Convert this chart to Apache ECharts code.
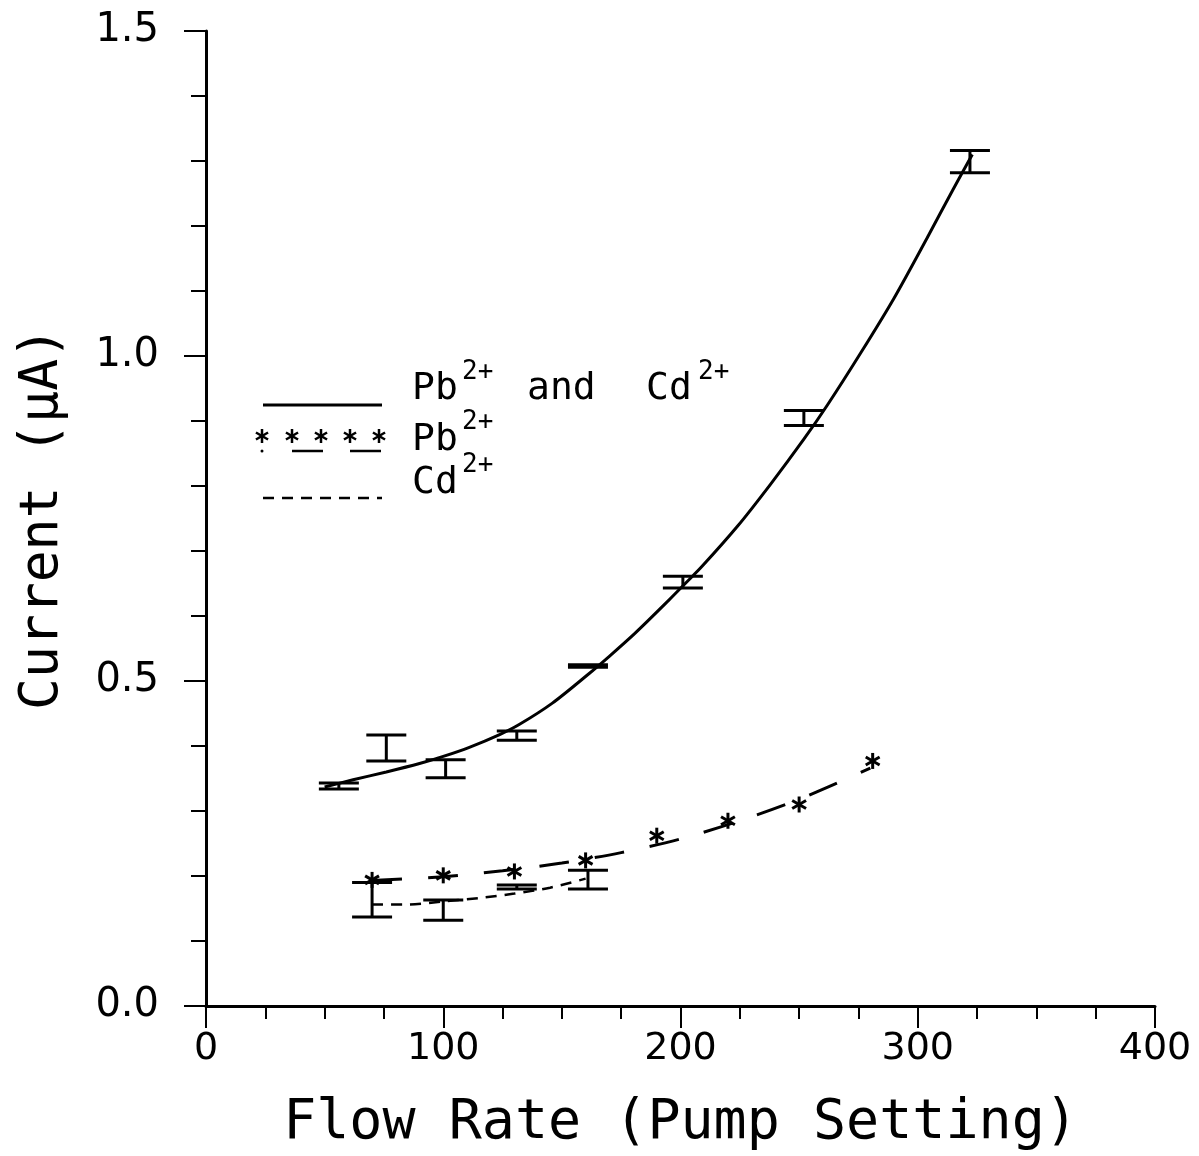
<!DOCTYPE html>
<html>
<head>
<meta charset="utf-8">
<script src="https://cdn.jsdelivr.net/npm/echarts@6/dist/echarts.min.js"></script>
<style>
html,body{margin:0;padding:0;background:#fff;}
#chart{width:1199px;height:1156px;}
</style>
</head>
<body>
<div id="chart"></div>
<script>
// ---- data ----
const xTickValues = [0, 100, 200, 300, 400];
const yTickValues = [0.0, 0.5, 1.0, 1.5];

// Pb2+ and Cd2+ (error bars + fitted solid curve)
const pbcdX    = [56, 76, 101, 131, 161, 201, 252, 322];
const pbcdLow  = [0.334, 0.377, 0.351, 0.409, 0.521, 0.643, 0.893, 1.282];
const pbcdHigh = [0.343, 0.417, 0.379, 0.423, 0.525, 0.661, 0.916, 1.316];
const pbcdFitX = [50, 62, 76, 90, 100, 111, 124, 132, 146, 161, 170, 181, 195, 202, 209, 224, 238, 252, 262, 276, 290, 304, 315, 323];
const pbcdFitY = [0.337, 0.348, 0.360, 0.373, 0.384, 0.398, 0.418, 0.433, 0.466, 0.510, 0.538, 0.574, 0.624, 0.650, 0.676, 0.738, 0.803, 0.872, 0.925, 1.005, 1.089, 1.182, 1.257, 1.310];

// Pb2+ (asterisks + long-dashed fit)
const pbX    = [70, 100, 130, 160, 190, 220, 250, 281];
const pbY    = [0.194, 0.201, 0.207, 0.224, 0.262, 0.285, 0.310, 0.377];
const pbFitX = [70, 100, 125, 150, 175, 200, 225, 250, 280];
const pbFitY = [0.193, 0.199, 0.208, 0.220, 0.236, 0.257, 0.285, 0.318, 0.366];

// Cd2+ (error bars + short-dashed fit)
const cdX    = [70, 100, 131, 161];
const cdLow  = [0.137, 0.132, 0.180, 0.180];
const cdHigh = [0.190, 0.163, 0.186, 0.209];
const cdFitX = [70, 85, 100, 115, 130, 145, 160];
const cdFitY = [0.156, 0.156, 0.161, 0.166, 0.173, 0.182, 0.196];

const xTitle = 'Flow Rate (Pump Setting)';
const yTitle = 'Current (\u03bcA)';

// ---- build ----
const zip = (a, b) => a.map((v, i) => [v, b[i]]);
const zip3 = (a, b, c) => a.map((v, i) => [v, b[i], c[i]]);

const INK = '#000';
const monoFont = '"DejaVu Sans Mono", monospace';
const sansFont = '"DejaVu Sans", sans-serif';

function errRender(params, api) {
  const x = api.value(0), lo = api.value(1), hi = api.value(2);
  const p1 = api.coord([x, lo]), p2 = api.coord([x, hi]);
  const hw = 20;
  const st = { stroke: INK, lineWidth: 3 };
  return {
    type: 'group',
    children: [
      { type: 'line', shape: { x1: p1[0], y1: p1[1], x2: p2[0], y2: p2[1] }, style: st },
      { type: 'line', shape: { x1: p1[0] - hw, y1: p1[1], x2: p1[0] + hw, y2: p1[1] }, style: st },
      { type: 'line', shape: { x1: p2[0] - hw, y1: p2[1], x2: p2[0] + hw, y2: p2[1] }, style: st }
    ]
  };
}

function starLines(cx, cy, r, lw) {
  const st = { stroke: INK, lineWidth: lw };
  const dx = r * Math.cos(Math.PI / 6), dy = r * Math.sin(Math.PI / 6);
  return [
    { type: 'line', shape: { x1: cx, y1: cy - r, x2: cx, y2: cy + r }, style: st },
    { type: 'line', shape: { x1: cx - dx, y1: cy - dy, x2: cx + dx, y2: cy + dy }, style: st },
    { type: 'line', shape: { x1: cx - dx, y1: cy + dy, x2: cx + dx, y2: cy - dy }, style: st }
  ];
}

function starRender(params, api) {
  const p = api.coord([api.value(0), api.value(1)]);
  return { type: 'group', children: starLines(p[0], p[1], 8, 3) };
}

// legend (drawn as graphic elements)
const legendLabels = [
  { parts: [['Pb', 412, 406, 38], ['2+', 462, 384, 26], ['and', 527, 406, 38], ['Cd', 646, 406, 38], ['2+', 698, 384, 26]] },
  { parts: [['Pb', 412, 457, 38], ['2+', 462, 434, 26]] },
  { parts: [['Cd', 412, 500, 38], ['2+', 462, 477, 26]] }
];
const graphics = [];
legendLabels.forEach(row => row.parts.forEach(([t, x, y, fs]) => {
  graphics.push({
    type: 'text', left: x, top: y - fs * 0.95,
    style: { text: t, fill: INK, font: fs + 'px ' + monoFont }
  });
}));
// row 1: solid line
graphics.push({ type: 'line', shape: { x1: 263, y1: 405, x2: 382, y2: 405 }, style: { stroke: INK, lineWidth: 3 } });
// row 2: asterisks + dashes
const legendStarX = [262, 292, 321, 350, 379];
const legendStars = [];
legendStarX.forEach(x => legendStars.push(...starLines(x, 436, 7, 2.5)));
graphics.push({ type: 'group', children: legendStars });
graphics.push({ type: 'line', shape: { x1: 292, y1: 451, x2: 323, y2: 451 }, style: { stroke: INK, lineWidth: 2.5 } });
graphics.push({ type: 'line', shape: { x1: 350, y1: 451, x2: 381, y2: 451 }, style: { stroke: INK, lineWidth: 2.5 } });
graphics.push({ type: 'circle', shape: { cx: 262, cy: 451, r: 1.5 }, style: { fill: INK } });
// row 3: short dashes
graphics.push({ type: 'line', shape: { x1: 263, y1: 498, x2: 382, y2: 498 }, style: { stroke: INK, lineWidth: 2.5, lineDash: [11, 8] } });

const option = {
  animation: false,
  backgroundColor: '#fff',
  grid: { left: 206, right: 44, top: 31, bottom: 147, containLabel: false },
  xAxis: {
    type: 'value', min: 0, max: 400, interval: 100,
    name: xTitle, nameLocation: 'middle', nameGap: 90,
    nameTextStyle: { fontFamily: monoFont, fontSize: 55, color: INK },
    axisLine: { show: true, onZero: false, lineStyle: { color: INK, width: 3 } },
    axisTick: { show: true, length: 22, lineStyle: { color: INK, width: 2 } },
    minorTick: { show: true, splitNumber: 4, length: 13, lineStyle: { color: INK, width: 2 } },
    splitLine: { show: false },
    axisLabel: {
      margin: 24, color: INK, fontFamily: sansFont, fontSize: 38,
      formatter: v => (xTickValues.indexOf(v) >= 0 ? String(v) : '')
    }
  },
  yAxis: {
    type: 'value', min: 0, max: 1.5, interval: 0.5,
    name: yTitle, nameLocation: 'middle', nameGap: 136,
    nameTextStyle: { fontFamily: monoFont, fontSize: 53, color: INK },
    axisLine: { show: true, onZero: false, lineStyle: { color: INK, width: 3 } },
    axisTick: { show: true, length: 22, lineStyle: { color: INK, width: 2 } },
    minorTick: { show: true, splitNumber: 5, length: 15, lineStyle: { color: INK, width: 2 } },
    splitLine: { show: false },
    axisLabel: {
      margin: 47, color: INK, fontFamily: sansFont, fontSize: 40,
      formatter: v => (yTickValues.some(t => Math.abs(t - v) < 1e-9) ? v.toFixed(1) : '')
    }
  },
  graphic: graphics,
  series: [
    {
      name: 'Pb2+ and Cd2+ fit', type: 'line', data: zip(pbcdFitX, pbcdFitY),
      smooth: 0.3, showSymbol: false, lineStyle: { color: INK, width: 3 }
    },
    {
      name: 'Pb2+ and Cd2+', type: 'custom', renderItem: errRender,
      data: zip3(pbcdX, pbcdLow, pbcdHigh), encode: { x: 0, y: [1, 2] }
    },
    {
      name: 'Pb2+ fit', type: 'line', data: zip(pbFitX, pbFitY),
      smooth: 0.3, showSymbol: false, lineStyle: { color: INK, width: 3, type: [30, 26] }
    },
    {
      name: 'Pb2+', type: 'custom', renderItem: starRender,
      data: zip(pbX, pbY), encode: { x: 0, y: 1 }
    },
    {
      name: 'Cd2+ fit', type: 'line', data: zip(cdFitX, cdFitY),
      smooth: 0.3, showSymbol: false, lineStyle: { color: INK, width: 2.5, type: [11, 8] }
    },
    {
      name: 'Cd2+', type: 'custom', renderItem: errRender,
      data: zip3(cdX, cdLow, cdHigh), encode: { x: 0, y: [1, 2] }
    }
  ]
};

const chart = echarts.init(document.getElementById('chart'), null, { renderer: 'canvas' });
chart.setOption(option);
</script>
</body>
</html>
